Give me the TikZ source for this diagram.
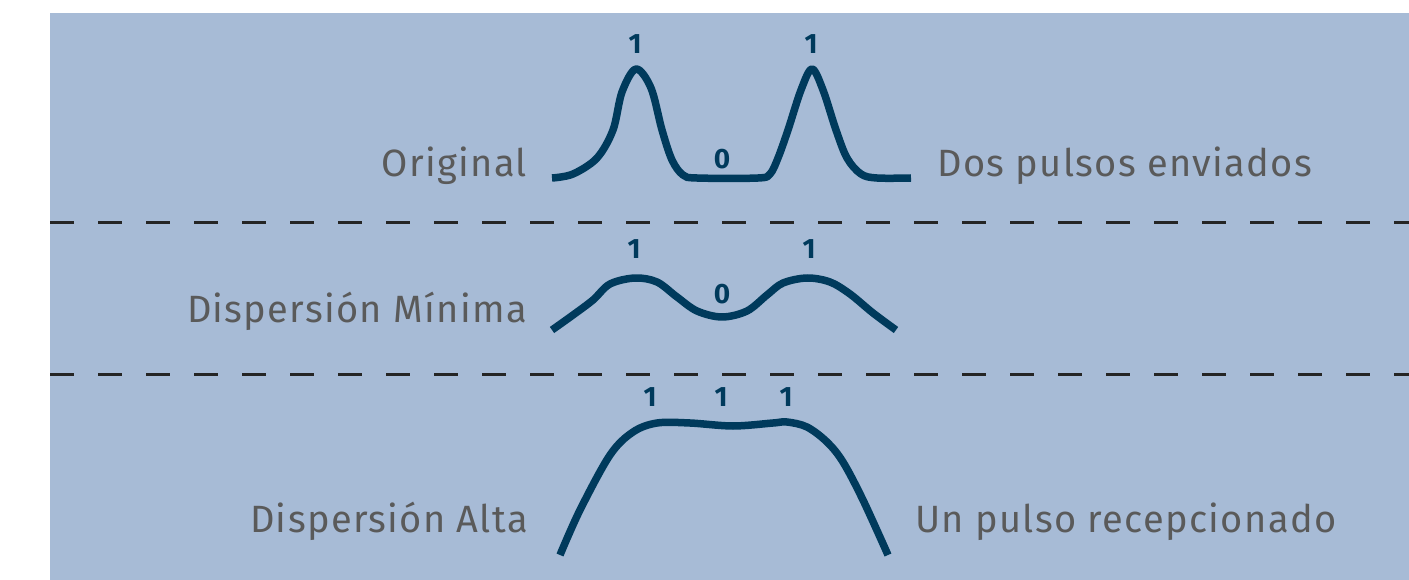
\documentclass[tikz,border=0pt]{standalone}
\usepackage{fontspec}
\setmainfont{Fira Sans}[BoldFont=* Bold]
\newfontfamily\capfont{Fira Sans}[LetterSpace=3.5]
\definecolor{panel}{HTML}{A7BBD6}
\definecolor{pulse}{HTML}{003A5C}
\definecolor{caption}{HTML}{5A5A5A}
\definecolor{rule}{HTML}{252525}
\tikzset{
  wave/.style={draw=pulse, line width=7.5pt, line join=round},
  sep/.style={draw=rule, line width=3pt, dash pattern=on 24pt off 24pt},
  caption/.style={text=caption, font=\capfont\fontsize{38}{42}\selectfont, inner sep=0pt},
  lcap/.style={caption, anchor=base east},
  rcap/.style={caption, anchor=base west},
  bit/.style={text=pulse, font=\fontsize{28}{30}\selectfont\bfseries, inner sep=0pt}
}
\begin{document}
\begin{tikzpicture}[x=1pt, y=-1pt]
\useasboundingbox (0,0) rectangle (1409,580);
\fill[panel] (50,13) rectangle (1409,580);

% separators between the three cases
\draw[sep] (50,223) -- (1409,223);
\draw[sep] (50,374) -- (1409,374);

% original: two clean pulses
\draw[wave] plot[smooth, tension=0.55] coordinates {
  (552,178) (573,174) (597,158) (613,130) (622,92) (636,69) (651,88) (662,130)
  (672,160) (683,175) (697,178) (758,178) (770,174) (778,158) (788,130) (801,90)
  (812,69) (823,90) (836,130) (847,158) (861,174) (877,178) (911,178)};

% minimum dispersion
\draw[wave] plot[smooth, tension=0.55] coordinates {
  (552,330) (573,315) (593,300) (610,284) (635,278) (657,282) (677,297) (697,311)
  (722,317) (747,311) (767,295) (783,283) (807,278) (830,282) (850,294) (873,313)
  (896,330)};

% high dispersion
\draw[wave] plot[smooth, tension=0.55] coordinates {
  (560,555) (580,510) (610,455) (633,432) (657,423) (690,423) (733,426) (773,423)
  (787,422) (807,427) (827,442) (843,462) (863,500) (888,555)};

% bit labels
\node[bit] (b11) at (635,44) {1};
\node[bit] (b10) at (722,159) {0};
\node[bit] (b12) at (811,44) {1};
\node[bit] (b21) at (634,249) {1};
\node[bit] (b20) at (722,294) {0};
\node[bit] (b22) at (809,249) {1};
\node[bit] (b31) at (650,397) {1};
\node[bit] (b32) at (721,397) {1};
\node[bit] (b33) at (786,397) {1};

% captions
\node[lcap] (orig) at (527,177) {Original};
\node[rcap] (sent) at (937,177) {Dos pulsos enviados};
\node[lcap] (dmin) at (527,322) {Dispersión Mínima};
\node[lcap] (dalt) at (528,532) {Dispersión Alta};
\node[rcap] (recv) at (915,532) {Un pulso recepcionado};
\end{tikzpicture}
\end{document}
